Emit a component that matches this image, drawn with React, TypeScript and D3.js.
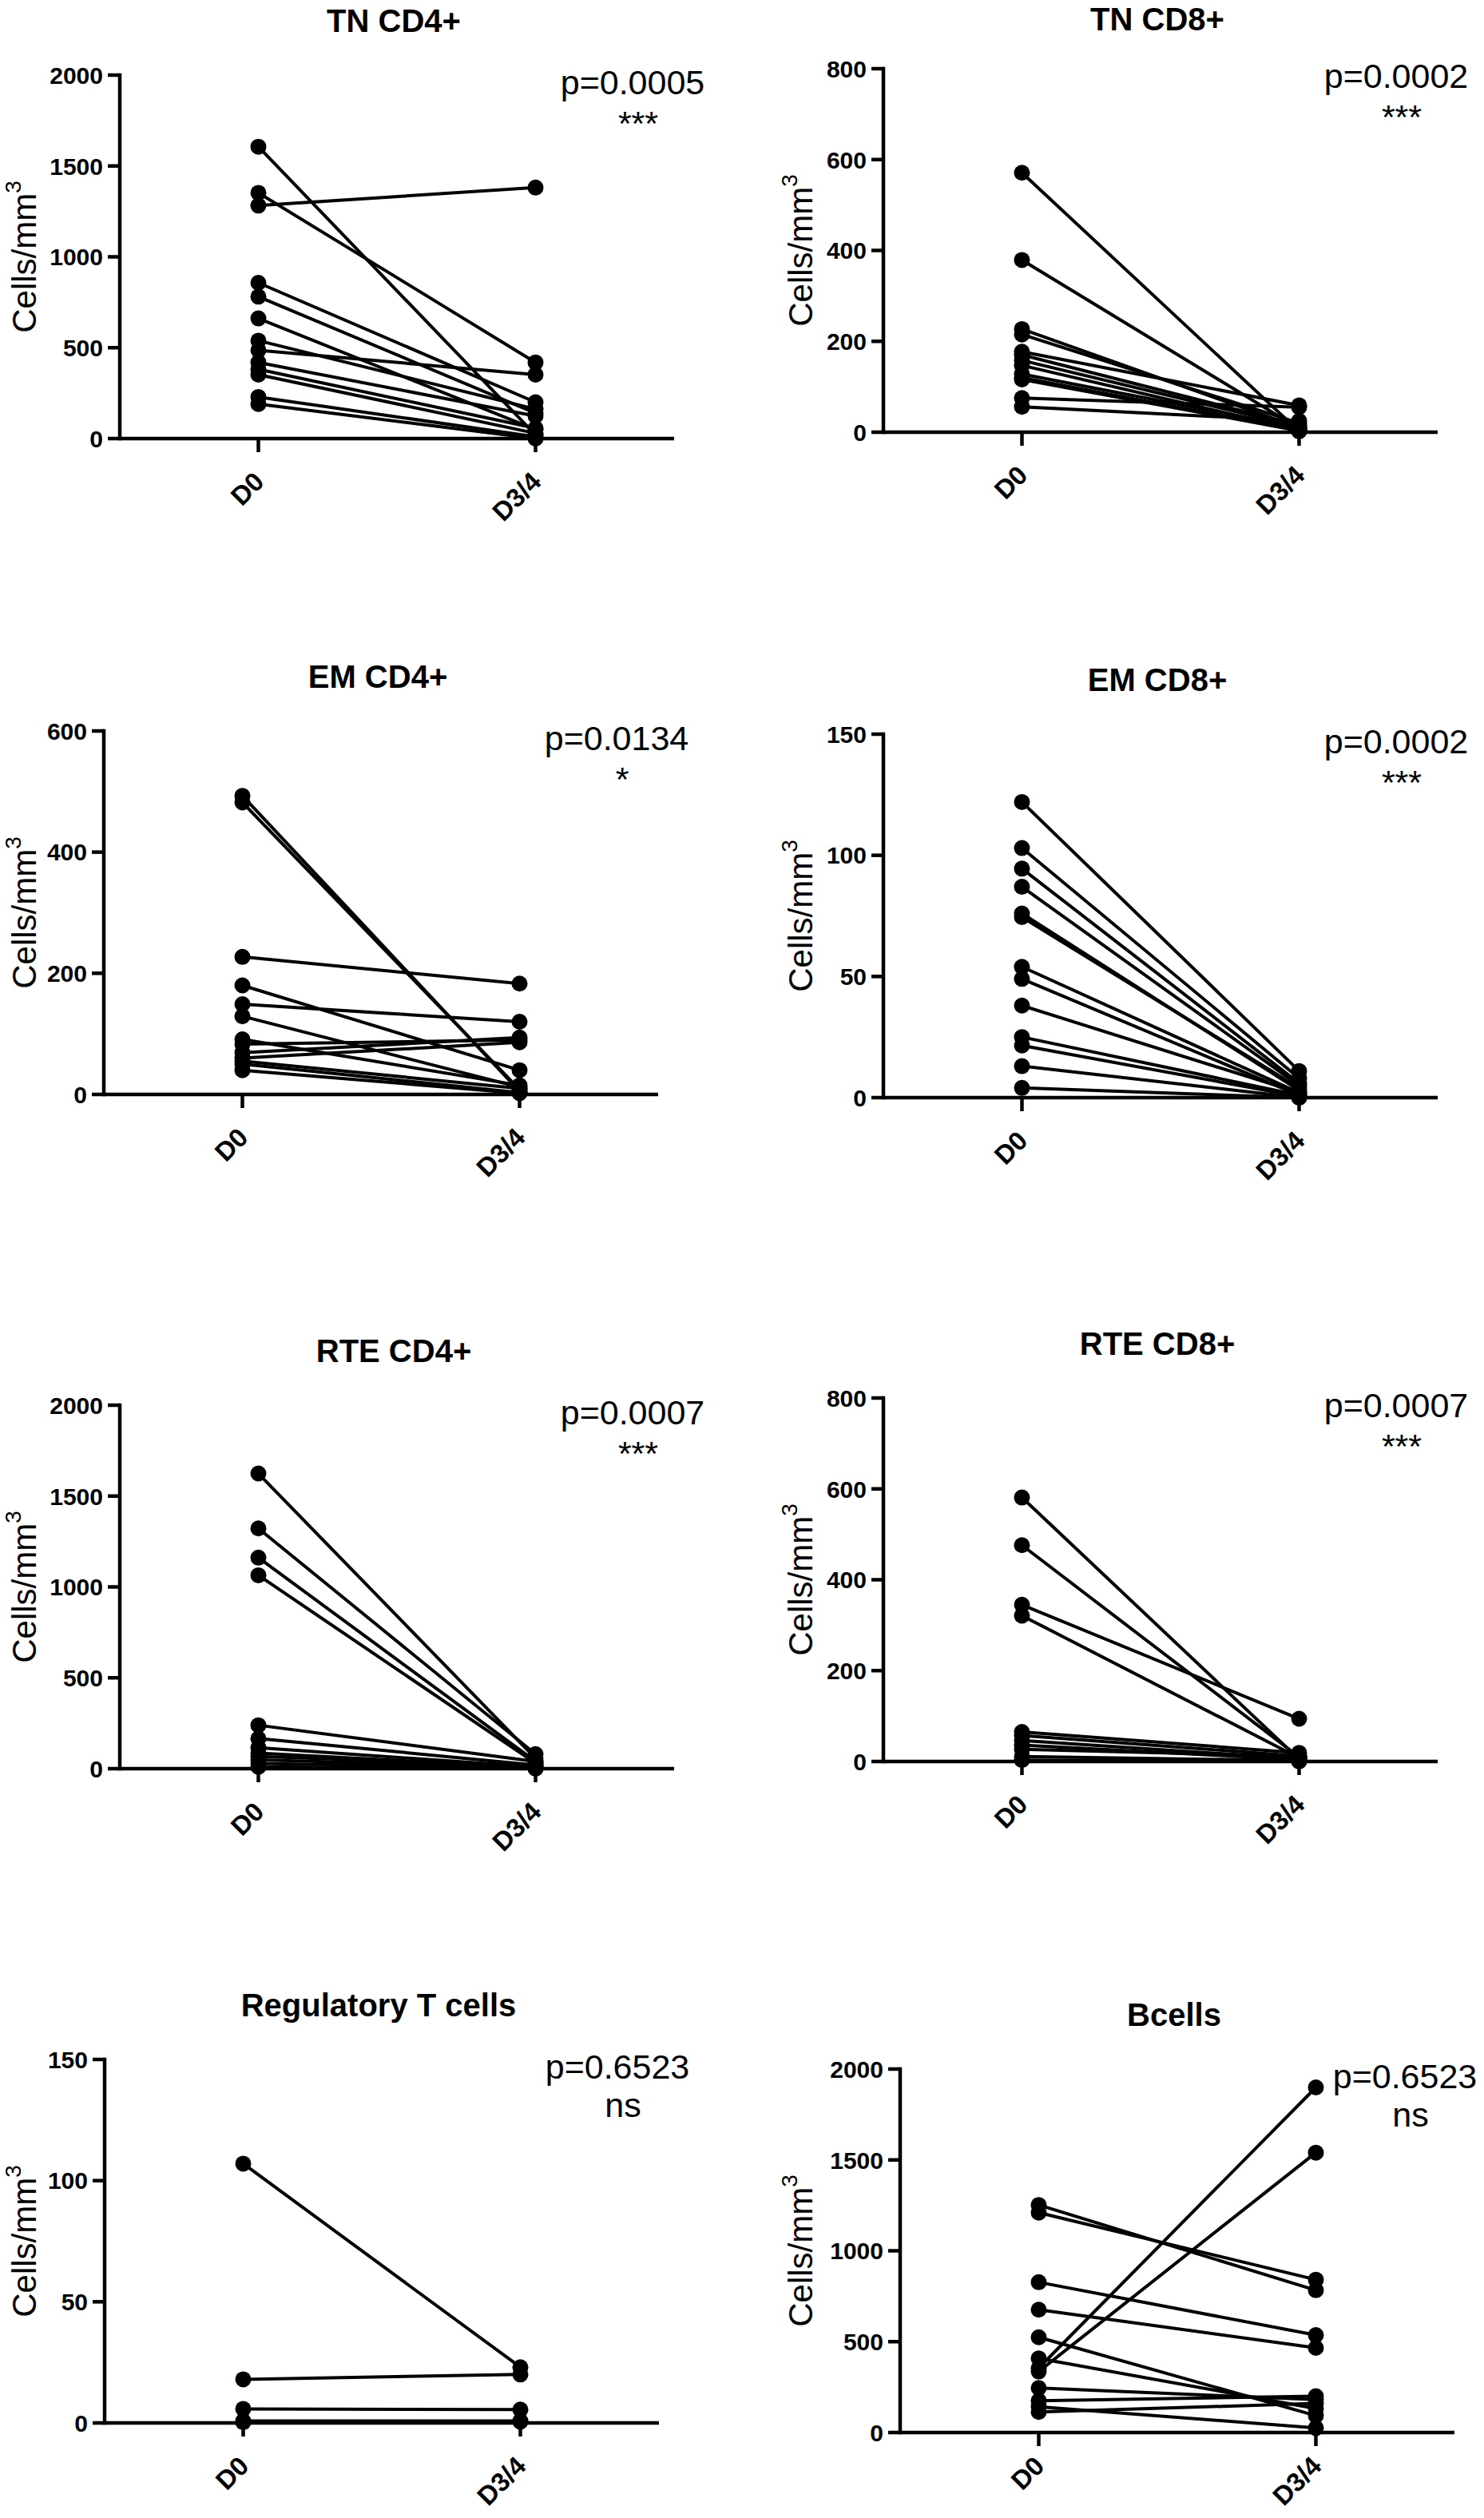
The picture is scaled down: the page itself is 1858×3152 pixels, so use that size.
import React from 'react'
import * as d3 from 'd3'

// categories on the x axis
const categories = ['D0', 'D3/4']

const titles = [
  'TN CD4+', 'TN CD8+', 'EM CD4+', 'EM CD8+',
  'RTE CD4+', 'RTE CD8+', 'Regulatory T cells', 'Bcells',
]
const pLabels = [
  'p=0.0005', 'p=0.0002', 'p=0.0134', 'p=0.0002',
  'p=0.0007', 'p=0.0007', 'p=0.6523', 'p=0.6523',
]
const significance = ['***', '***', '*', '***', '***', '***', 'ns', 'ns']
const yMax = [2000, 800, 600, 150, 2000, 800, 150, 2000]
const yStep = [500, 200, 200, 50, 500, 200, 50, 500]

// paired values, same subject at same index
const tnCd4D0 = [1606, 1352, 1282, 857, 781, 661, 539, 486, 419, 381, 352, 229, 190]
const tnCd4D34 = [20, 419, 1381, 200, 140, 50, 162, 352, 124, 57, 29, 10, 0]

const tnCd8D0 = [571, 379, 227, 215, 177, 170, 158, 147, 128, 120, 116, 75, 56]
const tnCd8D34 = [2, 8, 10, 20, 59, 15, 12, 5, 10, 4, 3, 55, 25]

const emCd4D0 = [493, 482, 227, 180, 149, 129, 91, 83, 69, 60, 55, 50, 40]
const emCd4D34 = [5, 8, 183, 40, 120, 12, 15, 90, 94, 86, 10, 3, 2]

const emCd8D0 = [122, 103, 94.5, 87, 76, 74.5, 54, 49, 38, 25, 21.5, 13, 4]
const emCd8D34 = [11, 8, 6, 5, 3, 4, 2, 1, 2, 1, 0.5, 0, 0]

const rteCd4D0 = [1624, 1322, 1161, 1064, 239, 166, 115, 86, 67, 48, 29, 10]
const rteCd4D34 = [57, 80, 40, 30, 40, 20, 10, 5, 15, 8, 3, 0]

const rteCd8D0 = [581, 476, 345, 321, 65, 57, 46, 36, 27, 11, 3]
const rteCd8D34 = [5, 10, 94, 8, 19, 12, 6, 4, 11, 2, 0]

const tregD0 = [107, 18, 5.8, 0.8, 0.3]
const tregD34 = [23, 20, 5.5, 0.8, 0.5]

const bD0 = [1252, 1210, 827, 676, 524, 408, 355, 336, 245, 175, 142, 113]
const bD34 = [783, 841, 536, 466, 93, 132, 1899, 1540, 181, 200, 25, 160]

const d0Sets = [tnCd4D0, tnCd8D0, emCd4D0, emCd8D0, rteCd4D0, rteCd8D0, tregD0, bD0]
const d34Sets = [tnCd4D34, tnCd8D34, emCd4D34, emCd8D34, rteCd4D34, rteCd8D34, tregD34, bD34]

// page layout
const W = 1858
const H = 3152
const plotW = 694
const plotH = 455
const axisXs = [150, 1106, 130, 1106, 150, 1106, 131, 1127]
const tops = [94, 86, 915, 919, 1759, 1750, 2578, 2590]
const titleShift = [0, 6, 0, 0, 0, 0, 0, 0]
const pShift = [0, 0, 0, 0, 0, 0, 0, -10]
const xLabelDy = [56, 56, 56, 56, 56, 56, 56, 44]
const yLabelXs = [45, 1017]
const font = '"Liberation Sans", Arial, sans-serif'

const Panel: React.FC<{ i: number }> = ({ i }) => {
  const x = d3.scalePoint<string>().domain(categories).range([0, plotW]).padding(0.5)
  const y = d3.scaleLinear().domain([0, yMax[i]]).range([plotH, 0])
  const ticks = d3.range(0, yMax[i] + 1, yStep[i])
  const line = d3.line<[number, number]>()
  const d0 = d0Sets[i]
  const d34 = d34Sets[i]
  const x0 = x('D0') as number
  const x1 = x('D3/4') as number

  return (
    <g transform={`translate(${axisXs[i]},${tops[i]})`} fontFamily={font}>
      <text x={plotW / 2 - 4} y={-54 + titleShift[i]} textAnchor="middle" fontSize={40} fontWeight="bold">
        {titles[i]}
      </text>

      {/* y axis */}
      <line x1={0} x2={0} y1={0} y2={plotH} stroke="#000" strokeWidth={4.5} strokeLinecap="square" />
      {ticks.map((t) => (
        <g key={t}>
          <line x1={-15} x2={0} y1={y(t)} y2={y(t)} stroke="#000" strokeWidth={4.5} />
          <text x={-21} y={y(t)} dy="0.36em" textAnchor="end" fontSize={30} fontWeight="bold">
            {t}
          </text>
        </g>
      ))}

      {/* x axis */}
      <line x1={0} x2={plotW} y1={plotH} y2={plotH} stroke="#000" strokeWidth={4.5} />
      {categories.map((c) => (
        <g key={c}>
          <line x1={x(c)} x2={x(c)} y1={plotH} y2={plotH + 17} stroke="#000" strokeWidth={4.5} />
          <text
            transform={`translate(${(x(c) as number) + 9},${plotH + xLabelDy[i]}) rotate(-45)`}
            textAnchor="end"
            fontSize={33}
            fontWeight="bold"
          >
            {c}
          </text>
        </g>
      ))}

      {/* paired lines */}
      {d0.map((v, k) => (
        <path
          key={'l' + k}
          d={line([[x0, y(v)], [x1, y(d34[k])]]) as string}
          stroke="#000"
          strokeWidth={4}
          fill="none"
        />
      ))}
      {d0.map((v, k) => (
        <circle key={'a' + k} cx={x0} cy={y(v)} r={10} fill="#000" />
      ))}
      {d34.map((v, k) => (
        <circle key={'b' + k} cx={x1} cy={y(v)} r={10} fill="#000" />
      ))}

      <text x={642 + pShift[i]} y={24} textAnchor="middle" fontSize={43}>
        {pLabels[i]}
      </text>
      <text x={649 + pShift[i]} y={significance[i] === 'ns' ? 72 : 75} textAnchor="middle" fontSize={43}>
        {significance[i]}
      </text>
    </g>
  )
}

const YLabel: React.FC<{ i: number }> = ({ i }) => (
  <text
    transform={`translate(${yLabelXs[i % 2]},${tops[i] + plotH / 2}) rotate(-90)`}
    textAnchor="middle"
    fontSize={42}
    fontFamily={font}
  >
    Cells/mm
    <tspan fontSize={28} dy={-19}>3</tspan>
  </text>
)

export default function App() {
  return (
    <svg
      width={W}
      height={H}
      viewBox={`0 0 ${W} ${H}`}
      style={{ position: 'absolute', left: 0, top: 0, background: '#fff' }}
    >
      {titles.map((_, i) => (
        <g key={i}>
          <Panel i={i} />
          <YLabel i={i} />
        </g>
      ))}
    </svg>
  )
}
